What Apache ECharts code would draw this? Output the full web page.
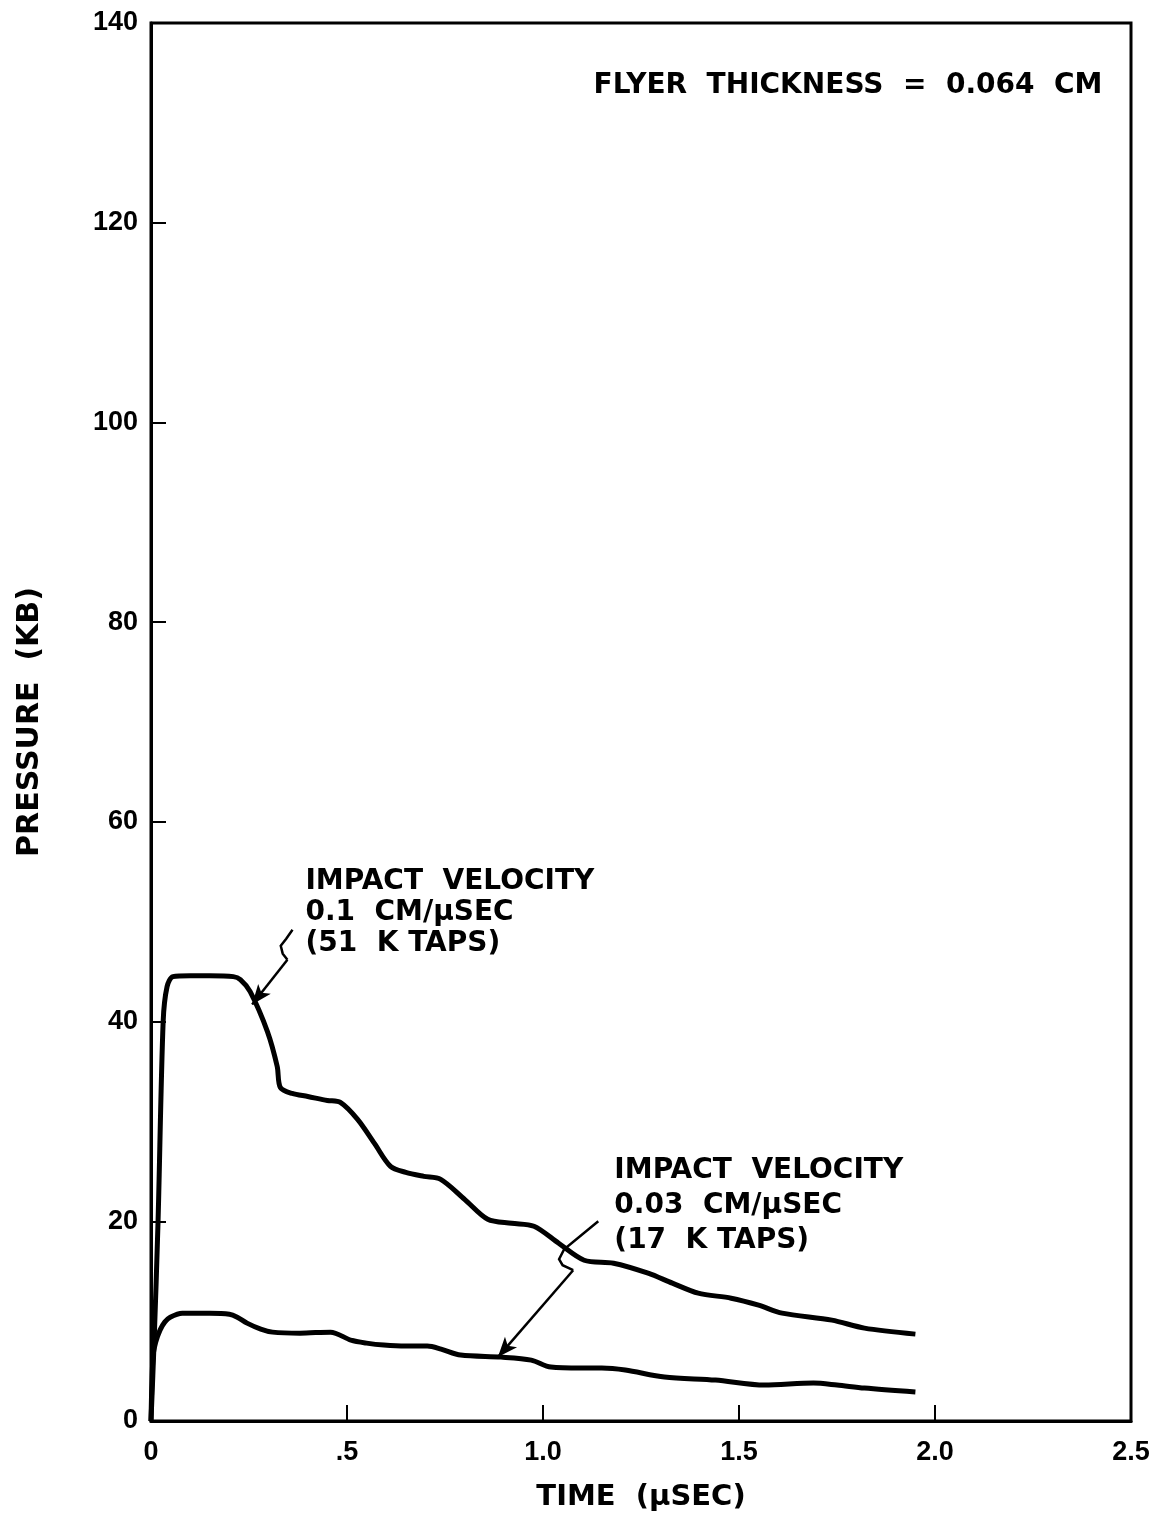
<!DOCTYPE html>
<html>
<head>
<meta charset="utf-8">
<script src="https://cdn.jsdelivr.net/npm/echarts@6/dist/echarts.min.js"></script>
<style>
html,body{margin:0;padding:0;background:#fff;}
#chart{width:1163px;height:1518px;}
</style>
</head>
<body>
<div id="chart"></div>
<script>
// ---- data ----
var xTickLabels = ['0', '.5', '1.0', '1.5', '2.0', '2.5'];
var yTickLabels = ['0', '20', '40', '60', '80', '100', '120', '140'];

// impact velocity 0.1 cm/usec (51 ktaps)
var highTime = [0, 0.008, 0.018, 0.031, 0.041, 0.056, 0.1, 0.15, 0.21, 0.228, 0.253, 0.297, 0.322, 0.33, 0.36, 0.40, 0.45, 0.483, 0.527, 0.57, 0.611, 0.65, 0.696, 0.739, 0.80, 0.859, 0.92, 0.977, 1.04, 1.105, 1.18, 1.268, 1.33, 1.396, 1.48, 1.55, 1.61, 1.737, 1.82, 1.95];
var highPressure = [0, 8, 20, 40, 43.5, 44.5, 44.6, 44.6, 44.5, 44.2, 43, 39, 35.5, 33.4, 32.8, 32.5, 32.1, 31.9, 30.2, 27.8, 25.5, 24.9, 24.5, 24.2, 22.2, 20.2, 19.8, 19.5, 17.8, 16.1, 15.8, 14.8, 13.8, 12.8, 12.3, 11.6, 10.8, 10.1, 9.3, 8.7];

// impact velocity 0.03 cm/usec (17 ktaps)
var lowTime = [0, 0.005, 0.012, 0.023, 0.035, 0.049, 0.08, 0.15, 0.2, 0.22, 0.245, 0.28, 0.31, 0.38, 0.458, 0.51, 0.55, 0.594, 0.65, 0.705, 0.74, 0.79, 0.893, 0.97, 1.02, 1.097, 1.15, 1.21, 1.31, 1.44, 1.565, 1.69, 1.75, 1.82, 1.95];
var lowPressure = [0, 6.4, 7.9, 9.1, 9.9, 10.4, 10.8, 10.8, 10.7, 10.4, 9.8, 9.2, 8.9, 8.8, 8.9, 8.1, 7.8, 7.6, 7.5, 7.5, 7.2, 6.6, 6.4, 6.1, 5.4, 5.3, 5.3, 5.1, 4.4, 4.1, 3.6, 3.8, 3.6, 3.3, 2.9];

// annotation leaders (time, pressure): squiggle part, then arrowed segment
var leaderHighSquiggle = [[0.361, 49.2], [0.345, 48.3], [0.331, 47.6], [0.336, 46.8], [0.348, 46.2]];
var leaderHighArrow = [[0.348, 46.2], [0.258, 41.7]];
var leaderLowSquiggle = [[1.141, 20.0], [1.054, 17.2], [1.041, 16.2], [1.050, 15.6], [1.077, 15.1]];
var leaderLowArrow = [[1.077, 15.1], [0.885, 6.4]];

var labelHighText = 'IMPACT  VELOCITY\n0.1  CM/\u03bcSEC\n(51  K TAPS)';
var labelHighAt = [0.394, 55.6];
var labelLowText = 'IMPACT  VELOCITY\n0.03  CM/\u03bcSEC\n(17  K TAPS)';
var labelLowAt = [1.182, 26.8];
var titleText = 'FLYER  THICKNESS  =  0.064  CM';
var titleAt = [2.427, 133.7];

function zip(a, b) { return a.map(function (v, i) { return [v, b[i]]; }); }

var FONT = '"DejaVu Sans", "Liberation Sans", sans-serif';
var TICKFONT = '"Liberation Sans", Arial, sans-serif';
var textLabel = function (txt, at, lh, align, va) {
  return { coord: at, label: { show: true, position: [0, 0], align: align, verticalAlign: va,
    formatter: txt, fontFamily: FONT, fontWeight: 'bold', fontSize: 28, lineHeight: lh, color: '#000' } };
};
var arrowLine = function (seg) {
  return {
    symbol: ['none', 'arrow'], symbolSize: [12, 20], silent: true, animation: false,
    label: { show: false },
    lineStyle: { color: '#000', width: 2.5, type: 'solid' },
    data: [[{ coord: seg[0] }, { coord: seg[1] }]]
  };
};

var chart = echarts.init(document.getElementById('chart'));
chart.setOption({
  backgroundColor: '#fff',
  animation: false,
  grid: {
    left: 151, right: 32, top: 23, bottom: 97,
    show: true, borderColor: '#000', borderWidth: 3, backgroundColor: 'transparent'
  },
  xAxis: {
    type: 'value', min: 0, max: 2.5, interval: 0.5,
    name: 'TIME  (\u03bcSEC)', nameLocation: 'middle', nameGap: 62,
    nameTextStyle: { fontFamily: FONT, fontWeight: 'bold', fontSize: 29, color: '#000' },
    axisLine: { show: true, lineStyle: { color: '#000', width: 3 } },
    axisTick: { show: true, inside: true, length: 16, lineStyle: { color: '#000', width: 2 } },
    splitLine: { show: false },
    axisLabel: {
      margin: 18, fontFamily: TICKFONT, fontWeight: 'bold', fontSize: 27, color: '#000',
      formatter: function (v) { return xTickLabels[Math.round(v / 0.5)]; }
    }
  },
  yAxis: {
    type: 'value', min: 0, max: 140, interval: 20,
    name: 'PRESSURE  (KB)', nameLocation: 'middle', nameGap: 106, nameRotate: 90,
    nameTextStyle: { fontFamily: FONT, fontWeight: 'bold', fontSize: 30, color: '#000' },
    axisLine: { show: true, lineStyle: { color: '#000', width: 3 } },
    axisTick: { show: true, inside: true, length: 15, lineStyle: { color: '#000', width: 2 } },
    splitLine: { show: false },
    axisLabel: {
      margin: 13, fontFamily: TICKFONT, fontWeight: 'bold', fontSize: 27, color: '#000',
      formatter: function (v) { return yTickLabels[Math.round(v / 20)]; }
    }
  },
  series: [
    {
      type: 'line', name: '0.1 CM/usec', data: zip(highTime, highPressure),
      showSymbol: false, smooth: 0.3,
      lineStyle: { color: '#000', width: 5 },
      markLine: arrowLine(leaderHighArrow),
      markPoint: {
        symbol: 'circle', symbolSize: 0, silent: true,
        data: [
          textLabel(labelHighText, labelHighAt, 31, 'left', 'top'),
          textLabel(titleText, titleAt, 31, 'right', 'middle')
        ]
      }
    },
    {
      type: 'line', name: '0.03 CM/usec', data: zip(lowTime, lowPressure),
      showSymbol: false, smooth: 0.3,
      lineStyle: { color: '#000', width: 5 },
      markLine: arrowLine(leaderLowArrow),
      markPoint: {
        symbol: 'circle', symbolSize: 0, silent: true,
        data: [ textLabel(labelLowText, labelLowAt, 35, 'left', 'top') ]
      }
    },
    {
      type: 'lines', coordinateSystem: 'cartesian2d', polyline: true, silent: true,
      lineStyle: { color: '#000', width: 2.5, opacity: 1 },
      data: [{ coords: leaderHighSquiggle }, { coords: leaderLowSquiggle }]
    }
  ]
});
</script>
</body>
</html>
